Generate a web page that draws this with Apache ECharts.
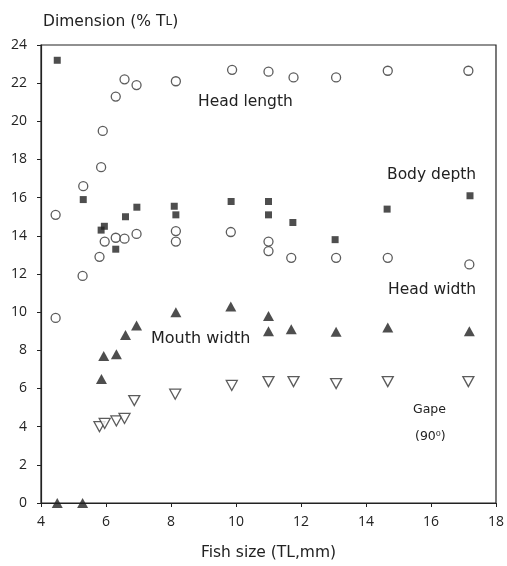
<!DOCTYPE html>
<html><head><meta charset="utf-8">
<script src="https://cdn.jsdelivr.net/npm/echarts@6/dist/echarts.min.js"></script>
<style>html,body{margin:0;padding:0;background:#fff}#c{width:507px;height:566px}</style>
</head><body><div id="c"></div>
<script>
// axis ticks
const xTicks = [4, 6, 8, 10, 12, 14, 16, 18];
const yTicks = [0, 2, 4, 6, 8, 10, 12, 14, 16, 18, 20, 22, 24];
// [fish size TL mm, dimension % TL]
const bodyDepth = [[4.5,23.2],[5.3,15.9],[5.85,14.3],[5.95,14.5],[6.3,13.3],[6.6,15.0],[6.95,15.5],[8.1,15.55],[8.15,15.1],[9.85,15.8],[11.0,15.8],[11.0,15.1],[11.75,14.7],[13.05,13.8],[14.65,15.4],[17.2,16.1]];
const headLength = [[5.3,16.6],[5.85,17.6],[5.9,19.5],[6.3,21.3],[6.57,22.2],[6.94,21.9],[8.15,22.1],[9.88,22.7],[11.0,22.6],[11.77,22.3],[13.08,22.3],[14.67,22.65],[17.15,22.65]];
const headWidth = [[4.45,15.1],[4.45,9.7],[5.28,11.9],[5.8,12.9],[5.96,13.7],[6.3,13.9],[6.57,13.85],[6.94,14.1],[8.15,14.25],[8.15,13.7],[9.84,14.2],[11.0,13.7],[11.0,13.2],[11.7,12.85],[13.08,12.85],[14.67,12.85],[17.18,12.5]];
const mouthWidth = [[4.5,0],[5.28,0],[5.86,6.5],[5.93,7.7],[6.32,7.8],[6.6,8.8],[6.94,9.3],[8.15,10.0],[9.84,10.3],[11.0,9.8],[11.0,9.0],[11.7,9.1],[13.08,8.97],[14.67,9.2],[17.18,9.0]];
const gape = [[5.8,4.0],[5.96,4.17],[6.32,4.3],[6.57,4.43],[6.87,5.37],[8.13,5.7],[9.87,6.16],[11.0,6.36],[11.77,6.36],[13.08,6.26],[14.67,6.36],[17.15,6.36]];

const tickFont = '"Open Sans", "DejaVu Sans", sans-serif';
const font = '"DejaVu Sans", sans-serif';
const ink = '#222';
const chart = echarts.init(document.getElementById('c'), null, {renderer: 'canvas'});
function label(text, x, y, size) {
  return {type: 'text', x: x, y: y, style: {text: text, fill: ink, font: size + 'px ' + font, align: 'left', verticalAlign: 'middle'}};
}
chart.setOption({
  animation: false,
  backgroundColor: '#fff',
  grid: {left: 41, right: 10, top: 45, bottom: 61, show: true, borderColor: ink, borderWidth: 1.2, backgroundColor: 'transparent'},
  xAxis: {
    type: 'value', min: xTicks[0], max: xTicks[xTicks.length - 1], interval: 2,
    name: 'Fish size (TL,mm)', nameLocation: 'middle', nameGap: 42,
    nameTextStyle: {color: ink, fontFamily: font, fontSize: 15.5},
    axisLine: {show: true, onZero: false, lineStyle: {color: ink, width: 1.2}},
    axisTick: {show: true, inside: false, length: 4, lineStyle: {color: ink}},
    axisLabel: {color: ink, fontFamily: tickFont, fontSize: 14, margin: 12},
    splitLine: {show: false}
  },
  yAxis: {
    type: 'value', min: yTicks[0], max: yTicks[yTicks.length - 1], interval: 2,
    axisLine: {show: true, onZero: false, lineStyle: {color: ink, width: 1.2}},
    axisTick: {show: true, length: 4, lineStyle: {color: ink}},
    axisLabel: {color: ink, fontFamily: tickFont, fontSize: 14, margin: 14},
    splitLine: {show: false}
  },
  series: [
    {name: 'Body depth', type: 'scatter', data: bodyDepth, symbol: 'rect', symbolSize: 7,
     itemStyle: {color: ink}},
    {name: 'Head length', type: 'scatter', data: headLength, symbol: 'circle', symbolSize: 9,
     itemStyle: {color: '#fff', borderColor: '#333', borderWidth: 1.3}},
    {name: 'Head width', type: 'scatter', data: headWidth, symbol: 'circle', symbolSize: 9,
     itemStyle: {color: '#fff', borderColor: '#333', borderWidth: 1.3}},
    {name: 'Mouth width', type: 'scatter', data: mouthWidth, symbol: 'triangle', symbolSize: [11, 10],
     itemStyle: {color: ink}},
    {name: 'Gape', type: 'scatter', data: gape, symbol: 'triangle', symbolRotate: 180, symbolSize: [11, 10],
     itemStyle: {color: '#fff', borderColor: '#333', borderWidth: 1.3}}
  ],
  graphic: [
    {type: 'text', x: 43, y: 22, style: {
      text: '{a|Dimension (% T}{b|L}{a|)}', verticalAlign: 'middle', align: 'left',
      rich: {a: {fontFamily: font, fontSize: 15.5, fill: ink}, b: {fontFamily: font, fontSize: 12, fill: ink}}}},
    label('Head length', 198, 102, 15.5),
    label('Body depth', 387, 175, 15.5),
    label('Head width', 388, 290, 15.5),
    label('Mouth width', 151, 339, 16),
    label('Gape', 413, 410, 12.5),
    label('(90\u2070)', 415, 437, 12.5)
  ]
});
</script></body></html>
